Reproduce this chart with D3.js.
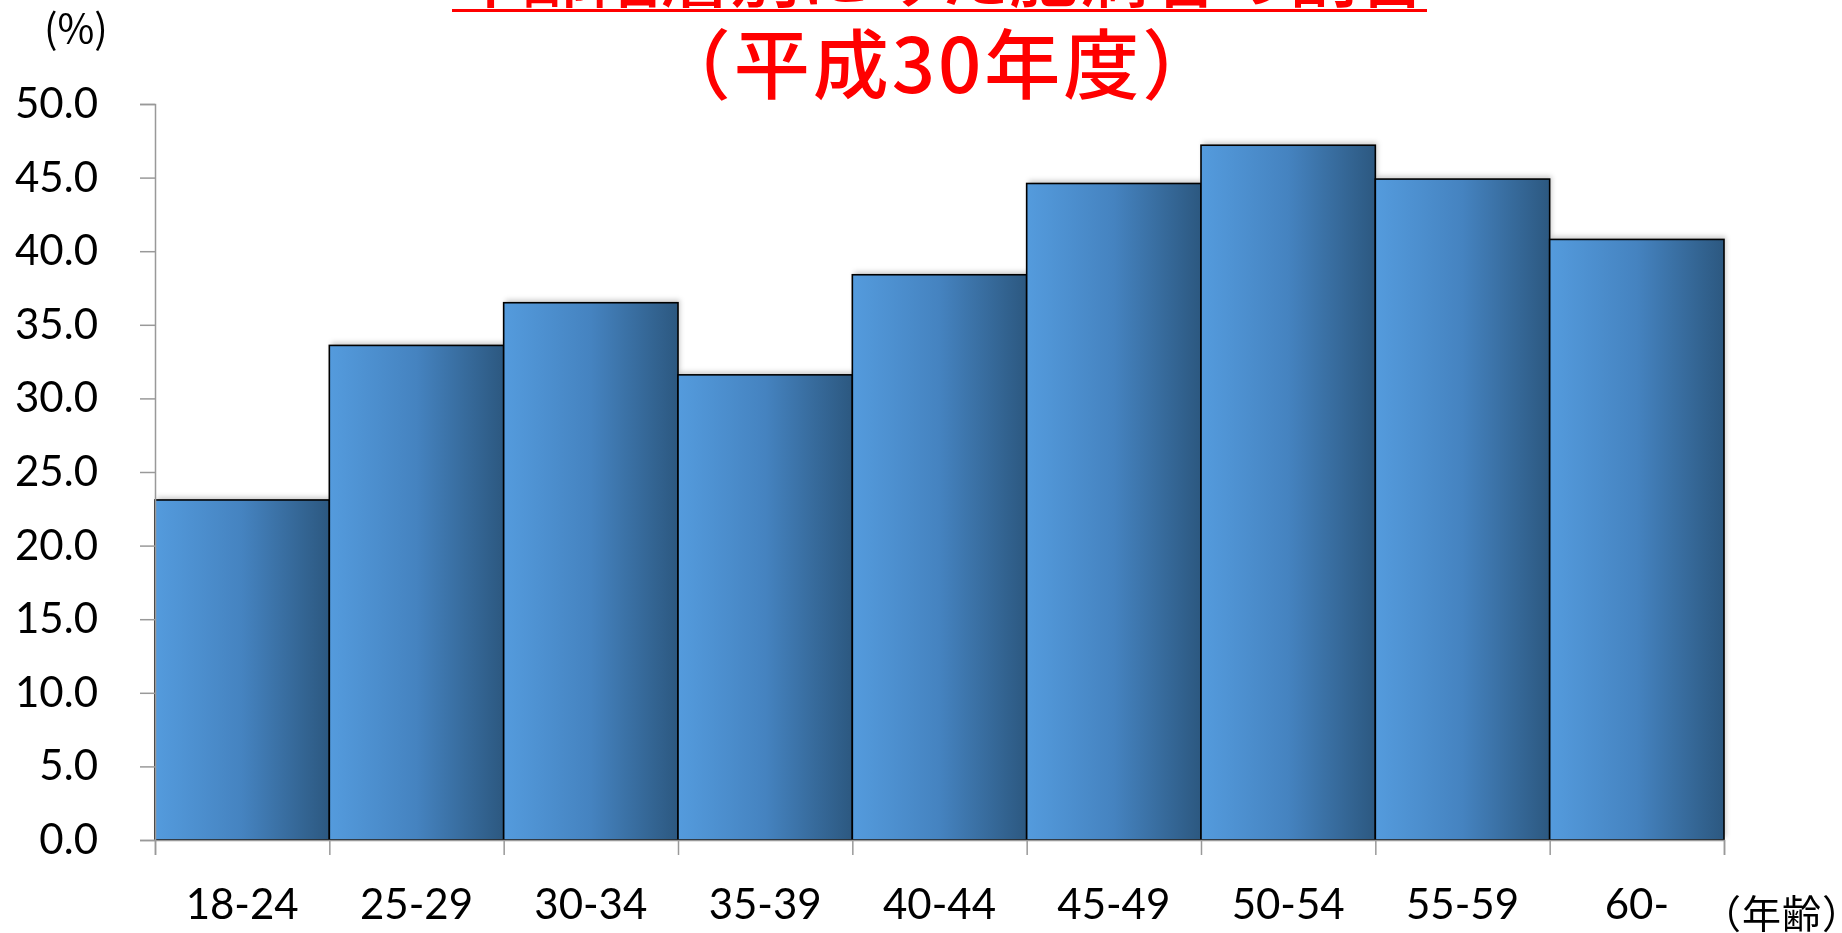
<!DOCTYPE html>
<html>
<head>
<meta charset="utf-8">
<script src="https://cdn.jsdelivr.net/npm/d3@7"></script>
<style>
  html, body { margin: 0; padding: 0; background: #fff; }
  svg { display: block; }
</style>
</head>
<body>
<svg id="chart" width="1842" height="933"></svg>
<script>
// Age groups and share (%) for each group
const ageGroups = ["18-24", "25-29", "30-34", "35-39", "40-44", "45-49", "50-54", "55-59", "60-"];
const shares = [23.1, 33.6, 36.5, 31.6, 38.4, 44.6, 47.2, 44.9, 40.8];
const yTicks = [0, 5, 10, 15, 20, 25, 30, 35, 40, 45, 50];

const titleLine1 = "年齢階層別にみた肥満者の割合";
const titleLine2 = "（平成30年度）";
const yUnit = "(%)";
const xUnit = "（年齢）";

const svg = d3.select("#chart");
const plotLeft = 155, plotRight = 1724, plotTop = 104, plotBottom = 840;

const x = d3.scaleBand().domain(ageGroups).range([plotLeft, plotRight]).padding(0);
const y = d3.scaleLinear().domain([0, 50]).range([plotBottom, plotTop]);

const defs = svg.append("defs");
const grad = defs.append("linearGradient").attr("id", "barFill")
  .attr("x1", "0%").attr("x2", "100%").attr("y1", "0%").attr("y2", "0%");
grad.append("stop").attr("offset", "0%").attr("stop-color", "#549bdd");
grad.append("stop").attr("offset", "50%").attr("stop-color", "#4583c0");
grad.append("stop").attr("offset", "100%").attr("stop-color", "#2c5880");

const blur = defs.append("filter").attr("id", "soft")
  .attr("x", "-10%").attr("y", "-10%").attr("width", "120%").attr("height", "120%");
blur.append("feGaussianBlur").attr("stdDeviation", 2.5);

// Title
const title = svg.append("g").attr("fill", "#ff0000")
  .style("font-family", "'Noto Sans CJK JP', sans-serif").style("font-weight", 500);
title.append("text")
  .attr("x", 452).attr("y", 2)
  .attr("textLength", 975).attr("lengthAdjust", "spacing")
  .style("font-size", "70px")
  .text(titleLine1);
title.append("rect").attr("x", 452).attr("y", 9).attr("width", 975).attr("height", 3);
title.append("text")
  .attr("x", 938).attr("y", 93)
  .attr("text-anchor", "middle")
  .style("font-size", "76px")
  .style("letter-spacing", "3px")
  .text(titleLine2);

// Soft shadow behind the bars
svg.append("g").attr("filter", "url(#soft)")
  .selectAll("rect").data(shares).join("rect")
  .attr("x", (d, i) => x(ageGroups[i]) + 2)
  .attr("y", d => y(d) - 3)
  .attr("width", x.bandwidth())
  .attr("height", d => plotBottom - y(d))
  .attr("fill", "#000").attr("opacity", 0.2);

// Bars
svg.append("g")
  .selectAll("rect").data(shares).join("rect")
  .attr("x", (d, i) => x(ageGroups[i]))
  .attr("y", d => y(d))
  .attr("width", x.bandwidth())
  .attr("height", d => plotBottom - y(d))
  .attr("fill", "url(#barFill)")
  .attr("stroke", "#000").attr("stroke-width", 1.6);

// Y axis
const yAxis = svg.append("g").attr("transform", `translate(${plotLeft},0)`)
  .call(d3.axisLeft(y).tickValues(yTicks).tickFormat(d3.format(".1f"))
    .tickSize(15).tickPadding(42));
yAxis.select(".domain").attr("stroke", "#999").attr("stroke-width", 1.5);
yAxis.selectAll(".tick line").attr("stroke", "#999").attr("stroke-width", 1.5);
yAxis.selectAll(".tick text")
  .style("font-family", "Lato, sans-serif").style("font-size", "42px").attr("fill", "#000");

// X axis: ticks on group boundaries, labels centred in each group
const xEdge = d3.scaleLinear().domain([0, ageGroups.length]).range([plotLeft, plotRight]);
const xAxis = svg.append("g").attr("transform", `translate(0,${plotBottom})`)
  .call(d3.axisBottom(xEdge).tickValues(d3.range(ageGroups.length + 1))
    .tickSize(15).tickFormat(""));
xAxis.select(".domain").attr("stroke", "#999").attr("stroke-width", 1.5);
xAxis.selectAll(".tick line").attr("stroke", "#999").attr("stroke-width", 1.5);

svg.append("g").selectAll("text").data(ageGroups).join("text")
  .attr("x", d => x(d) + x.bandwidth() / 2)
  .attr("y", 919)
  .attr("text-anchor", "middle")
  .style("font-family", "Lato, sans-serif").style("font-size", "42px")
  .attr("fill", "#000")
  .text(d => d);

// Unit labels
svg.append("text").attr("x", 44).attr("y", 43)
  .style("font-family", "'Noto Sans CJK JP', sans-serif").style("font-size", "40px")
  .attr("fill", "#000").text(yUnit);
svg.append("text").attr("x", 1702).attr("y", 928)
  .style("font-family", "'Noto Sans CJK JP', sans-serif").style("font-size", "39px")
  .style("letter-spacing", "1px")
  .attr("fill", "#000").text(xUnit);
</script>
</body>
</html>
